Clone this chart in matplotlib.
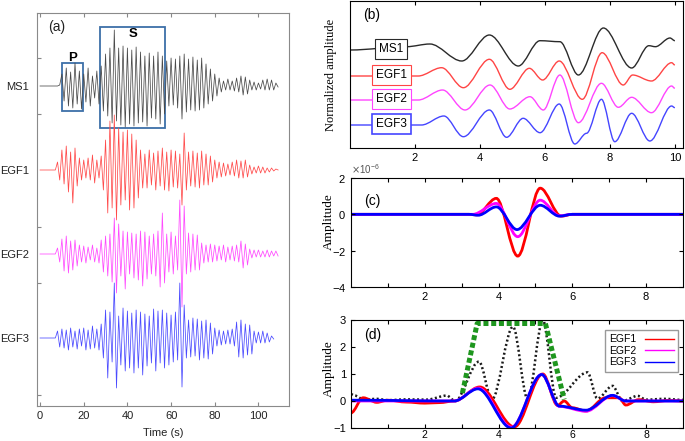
import numpy as np
import matplotlib.pyplot as plt
from matplotlib.path import Path
from matplotlib.patches import PathPatch, Rectangle
from matplotlib.lines import Line2D

plt.rcParams['font.family'] = ['Liberation Sans', 'DejaVu Sans']

# ---------------- panel (a): seismograms ----------------
# one value per half cycle (peak, trough, peak, ...), dt seconds apart, one row = 10 s
dt = 1.0
ms1 = [0, 0, 0, 0, 0, 0, 0, 0, 0, 1,
       12, -15, 18, -20, 14, -22, 23, -18, 15, -23,
       12, -16, 18, -20, 10, -12, 15, -18, 20, -25,
       32, -30, 38, -37, 56, -35, 38, -39, 40, -41,
       38, -38, 36, -40, 39, -37, 34, -36, 30, -40,
       33, -32, 30, -33, 34, -38, 30, -28, 25, -20,
       28, -19, 27, -22, 30, -33, 32, -26, 27, -24,
       29, -25, 26, -24, 28, -22, 22, -18, 17, -15,
       12, -10, 8, -6, 5, -4, 7, -4, 5, -5,
       8, -6, 10, -9, 9, -8, 6, -4, 4, -4,
       3, -3, 6, -4, 7, -4, 6, -4, 3, -1]
egf1 = [0, 0, 0, 0, 0, 0, 0, 0, 8, -10,
        20, -14, 24, -22, 18, -33, 22, -16, 12, -10,
        10, -8, 12, -10, 15, -13, 10, -8, 14, -20,
        30, -43, 49, -38, 55, -50, 42, -35, 38, -30,
        40, -40, 36, -38, 30, -28, 20, -18, 16, -18,
        20, -15, 17, -20, 19, -16, 22, -20, 18, -21,
        20, -17, 19, -18, 16, -35, 37, -20, 18, -16,
        19, -17, 17, -18, 19, -15, 16, -15, 14, -12,
        10, -8, 8, -7, 7, -6, 6, -5, 8, -6,
        10, -8, 9, -8, 10, -7, 5, -4, 3, -3,
        4, -3, 3, -3, 2, -2, 2, -1, 1, 0]
egf2 = [0, 0, 0, 0, 0, 0, 0, 0, 6, -8,
        15, -17, 18, -19, 13, -16, 14, -12, 9, -8,
        8, -9, 7, -6, 9, -8, 6, -9, 14, -18,
        18, -22, 20, -28, 36, -39, 30, -22, 23, -35,
        22, -20, 21, -24, 20, -26, 23, -32, 22, -25,
        18, -20, 20, -22, 23, -33, 41, -29, 20, -18,
        22, -20, 18, -16, 54, -53, 48, -20, 21, -18,
        20, -16, 19, -16, 11, -9, 9, -8, 10, -8,
        9, -7, 8, -6, 9, -8, 7, -6, 8, -7,
        9, -8, 13, -14, 10, -11, 5, -4, 4, -3,
        4, -3, 3, -3, 4, -3, 3, -2, 3, -2]
egf3 = [0, 0, 0, 0, 0, 0, 0, 0, 7, -9,
        9, -10, 8, -12, 10, -9, 7, -11, 9, -8,
        10, -12, 8, -11, 12, -10, 9, -12, 14, -20,
        28, -40, 26, -24, 55, -50, 22, -27, 30, -33,
        27, -30, 25, -35, 28, -30, 26, -37, 24, -28,
        22, -25, 29, -33, 27, -25, 28, -30, 25, -27,
        23, -24, 26, -22, 55, -49, 33, -20, 18, -19,
        20, -18, 19, -22, 17, -20, 18, -21, 15, -16,
        10, -8, 8, -7, 7, -6, 8, -6, 9, -8,
        16, -19, 18, -20, 14, -17, 13, -16, 7, -5,
        6, -5, 7, -5, 5, -4, 2, -1]
names_a = ['MS1', 'EGF1', 'EGF2', 'EGF3']
traces_a = [ms1, egf1, egf2, egf3]
offsets_a = [0, -84, -168, -252]
colors_a = ['#4a4a4a', '#ff4a4a', '#ff4aff', '#4a4aff']

# ---------------- panel (b): filtered waveforms (extrema) ----------------
b_x = {
    'MS1': [0, 1.74, 2.46, 3.44, 4.29, 5.18, 5.85, 6.46, 7.03, 7.8, 8.67, 9.2, 9.4, 9.85, 10.0],
    'EGF1': [0, 2.1, 2.82, 3.49, 4.29, 4.92, 5.52, 5.93, 6.44, 7.15, 7.76, 8.41, 8.7, 9.28, 9.9, 10.0],
    'EGF2': [0, 2.1, 2.85, 3.54, 4.31, 4.92, 5.54, 5.95, 6.46, 7.03, 7.74, 8.26, 8.67, 9.28, 9.9, 10.0],
    'EGF3': [0, 2.2, 2.89, 3.49, 4.29, 4.82, 5.33, 5.85, 6.44, 6.92, 7.28, 7.74, 8.15, 8.67, 9.23, 9.9, 10.0],
}
b_y = {
    'MS1': [0, 3.3, 6, -11, 15, -16, 9.3, 8.3, -25, 22, -18, 4.3, 3.3, 12, 9.3],
    'EGF1': [0, 0, 8.3, -11.7, 16.7, -13.3, 7.7, -4, 15, -23.3, 23.3, -9, 1, -5, 13.3, 11],
    'EGF2': [0, 0, 10, -10, 15, -9, 3.3, -10, 25, -22.7, 16.7, -7.3, 2.7, -12.7, 14, 11.7],
    'EGF3': [0, 0, 9, -11.7, 15, -12.3, 6.7, -7.7, 21, -19, -8.3, 25.7, -16.7, 11.7, -16, 19, 17.3],
}
offsets_b = [0, -26, -50, -75]
colors_b = ['#2a2a2a', '#ff4545', '#ff45ff', '#4545ff']

# ---------------- panel (c): wavelets, units of 1e-6 ----------------
c_x = [[0, 3.2, 3.4, 3.94, 4.52, 5.13, 5.7, 6.0, 9],
       [0, 3.3, 3.94, 4.52, 5.13, 5.65, 6.0, 9],
       [0, 3.2, 3.45, 3.94, 4.5, 5.13, 5.65, 6.0, 9]]
c_y = [[0, 0, -0.03, 0.88, -2.3, 1.44, -0.1, 0, 0],
       [0, 0, 0.6, -1.23, 0.78, -0.08, 0, 0],
       [0, 0, -0.05, 0.41, -0.84, 0.5, -0.1, 0, 0]]

# ---------------- panel (d) ----------------
green_x = [3.02, 3.42, 5.27, 5.78]
green_y = [0.29, 2.87, 2.87, 0.06]
black_x = [0, 0.1, 0.35, 0.7, 1.0, 1.5, 2.05, 2.6, 2.82, 3.47, 3.82, 4.39, 4.79, 5.2,
           5.56, 6.41, 6.68, 7.09, 7.36, 7.77, 8.0, 8.5, 9]
black_y = [0.25, 0.2, 0.05, 0.08, 0.03, 0.06, 0.05, 0.2, 0.0, 1.46, 0.06, 2.75, 0.06, 3.0,
           0.12, 1.06, 0.09, 0.56, 0.0, 0.19, 0.05, 0.08, 0.04]
d_x = [[0, 0.33, 0.7, 1.0, 1.5, 2.0, 2.4, 2.8, 3.49, 4.43, 5.2, 5.6, 5.78, 6.0, 6.37, 6.9,
        7.27, 7.45, 7.8, 8.2, 8.6, 9],
       [0, 2.8, 3.45, 4.35, 5.17, 5.65, 6.37, 7.09, 7.45, 9],
       [0, 2.8, 3.44, 4.34, 5.17, 5.65, 6.37, 7.09, 7.45, 9]]
d_y = [[-0.44, 0.12, -0.05, 0.03, -0.04, -0.08, -0.06, 0.0, 0.52, -0.96, 1.0, -0.16, 0.0,
        -0.25, -0.37, 0.12, 0.12, -0.15, 0.05, -0.03, 0.02, 0],
       [0, 0, 0.48, -0.97, 0.98, -0.2, -0.38, 0.2, 0, 0],
       [0.03, 0.0, 0.45, -1.0, 0.98, -0.19, -0.34, 0.21, 0.0, 0.0]]
names_d = ['EGF1', 'EGF2', 'EGF3']
colors_cd = ['#ff0000', '#ff00ff', '#0000ff']


def smooth(ax, x, y, **kw):
    # smooth curve through the read extrema (flat tangent at every node)
    verts = [(x[0], y[0])]
    codes = [Path.MOVETO]
    for i in range(1, len(x)):
        d = (x[i] - x[i - 1]) / 3
        verts += [(x[i - 1] + d, y[i - 1]), (x[i] - d, y[i]), (x[i], y[i])]
        codes += [Path.CURVE4] * 3
    ax.add_patch(PathPatch(Path(verts, codes), fill=False, **kw))


W, H = 685, 441
fig = plt.figure(figsize=(W / 100, H / 100), dpi=100)


def box(l, t, r, b):
    return [l / W, 1 - b / H, (r - l) / W, (b - t) / H]


# ---- (a)
ax = fig.add_axes(box(37, 13, 289, 406))
for vals, off, col in zip(traces_a, offsets_a, colors_a):
    t = np.arange(len(vals)) * dt
    ax.plot(t, off + np.array(vals), color=col, lw=0.55)
ax.set_xlim(-1.4, 114)
ax.set_ylim(-320, 73)
ax.set_xticks([0, 20, 40, 60, 80, 100])
ax.set_yticks([28, -28, -141, -197, -309])
ax.set_yticklabels([])
ax.set_yticks(offsets_a, labels=names_a, minor=True)
ax.tick_params(axis='y', which='minor', length=0, pad=6, labelsize=8, labelcolor='#222222')
ax.tick_params(axis='both', which='major', direction='in', length=3, color='#888888',
               labelsize=8, labelcolor='#222222', top=True)
for s in ax.spines.values():
    s.set_color('#8a8a8a')
    s.set_linewidth(0.8)
ax.set_xlabel('Time (s)', fontsize=8, color='#222222', labelpad=5)
ax.text(7.8, 59, '(a)', fontsize=10, ha='center', va='center', color='#222222')
ax.add_patch(Rectangle((10, -25), 9.7, 48, fill=False, ec='#3d6fa8', lw=1.3))
ax.add_patch(Rectangle((27.5, -42), 29.5, 101, fill=False, ec='#3d6fa8', lw=1.3))
ax.text(14.7, 28, 'P', fontsize=9.5, fontweight='bold', ha='center', va='center')
ax.text(42.7, 52, 'S', fontsize=9.5, fontweight='bold', ha='center', va='center')

# ---- (b)
ax = fig.add_axes(box(350, 1, 683, 148))
for name, off, col in zip(names_a, offsets_b, colors_b):
    smooth(ax, b_x[name], off + np.array(b_y[name]), color=col, lw=1.0)
    ax.text(1.27, off + 1, name, fontsize=8.5, ha='center', va='center',
            bbox=dict(boxstyle='square,pad=0.33', fc='white', ec=col,
                      lw=1.2 if name == 'EGF3' else 0.8))
ax.set_xlim(0, 10.25)
ax.set_ylim(-98, 49)
ax.set_xticks([2, 4, 6, 8, 10])
ax.set_yticks([])
ax.tick_params(direction='in', length=3, labelsize=8, top=True)
ax.set_ylabel('Normalized amplitude', family=['Liberation Serif'], fontsize=9)
ax.yaxis.set_label_coords(-0.04, 0.5)
ax.text(0.04, 0.88, '(b)', transform=ax.transAxes, fontsize=10)

# ---- (c)
ax = fig.add_axes(box(351, 178, 683, 287))
for xs, ys, col in zip(c_x, c_y, colors_cd):
    smooth(ax, xs, np.array(ys) * 1e-6, color=col, lw=2.0)
ax.set_xlim(0, 9)
ax.set_ylim(-4e-6, 2e-6)
ax.set_xticks(range(1, 9), labels=['', '2', '', '4', '', '6', '', '8'])
ax.set_yticks([-4e-6, -2e-6, 0, 2e-6])
ax.ticklabel_format(axis='y', style='sci', scilimits=(0, 0), useMathText=True)
ax.yaxis.get_offset_text().set_fontsize(7)
ax.yaxis.get_offset_text().set_color('#555555')
ax.tick_params(direction='in', length=3, labelsize=8, top=True, right=True)
ax.set_ylabel('Amplitude', family=['Liberation Serif'], fontsize=9.5)
ax.yaxis.set_label_coords(-0.05, 0.6)
ax.text(0.04, 0.75, '(c)', transform=ax.transAxes, fontsize=10)

# ---- (d)
ax = fig.add_axes(box(351, 320, 683, 428))
ax.plot(green_x, green_y, color='#1e961e', lw=3.6, ls=(0, (1, 0.55)), solid_capstyle='butt')
smooth(ax, black_x, black_y, color='#1a1a1a', lw=1.8, ls=(0, (0.8, 1.0)))
for xs, ys, col in zip(d_x, d_y, colors_cd):
    smooth(ax, xs, ys, color=col, lw=2.0)
ax.set_xlim(0, 9)
ax.set_ylim(-1, 3)
ax.set_xticks(range(1, 9), labels=['', '2', '', '4', '', '6', '', '8'])
ax.set_yticks([-1, 0, 1, 2, 3])
ax.tick_params(direction='in', length=3, labelsize=8, top=True, right=True)
ax.tick_params(axis='x', pad=1.5, labelsize=7.5)
ax.set_ylabel('Amplitude', family=['Liberation Serif'], fontsize=9.5)
ax.yaxis.set_label_coords(-0.05, 0.55)
ax.text(0.04, 0.82, '(d)', transform=ax.transAxes, fontsize=10)
handles = [Line2D([], [], color=c, lw=1.0) for c in colors_cd]
ax.legend(handles, names_d, loc='upper right', bbox_to_anchor=(0.985, 0.907),
          borderaxespad=0, markerfirst=False, fontsize=7.5, fancybox=False,
          edgecolor='#999999', handlelength=2.8, labelspacing=0.15,
          borderpad=0.4, handletextpad=0.8, framealpha=1)

fig.savefig('out.png', dpi=100)
